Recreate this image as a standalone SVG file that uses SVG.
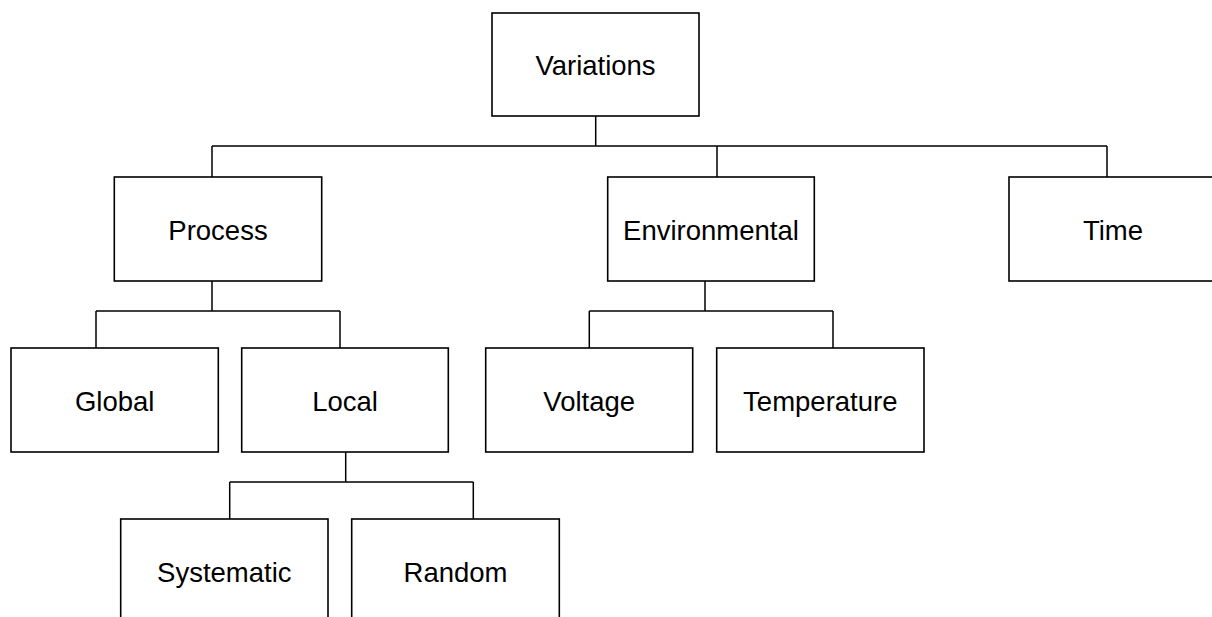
<svg xmlns="http://www.w3.org/2000/svg" width="1212" height="617" viewBox="0 0 1212 617">
  <style>
    .box { fill: #ffffff; stroke: #000000; stroke-width: 1.6; }
    .lbl { font-family: "Liberation Sans", Arial, sans-serif; font-size: 27.5px; fill: #000000; text-anchor: middle; }
    .wire { fill: none; stroke: #000000; stroke-width: 1.5; }
  </style>
  <rect x="0" y="0" width="1212" height="617" fill="#ffffff"/>

  <!-- tree connectors -->
  <g id="connectors">
    <path class="wire" d="M595.7 116 V146 M212 146 H1107 M212 146 V177 M717 146 V177 M1107 146 V177"/>
    <path class="wire" d="M212 281 V311 M96 311 H340 M96 311 V348 M340 311 V348"/>
    <path class="wire" d="M705 281 V311 M589.3 311 H833 M589.3 311 V348 M833 311 V348"/>
    <path class="wire" d="M345.7 452 V482 M229.7 482 H473.3 M229.7 482 V519 M473.3 482 V519"/>
  </g>

  <g id="variations">
    <rect class="box" x="492" y="13" width="207" height="103"/>
    <text class="lbl" x="595.5" y="74.5">Variations</text>
  </g>
  <g id="process">
    <rect class="box" x="114.3" y="177" width="207.4" height="104"/>
    <text class="lbl" x="218" y="239.5">Process</text>
  </g>
  <g id="environmental">
    <rect class="box" x="607.7" y="177" width="206.6" height="104"/>
    <text class="lbl" x="711" y="239.5">Environmental</text>
  </g>
  <g id="time">
    <rect class="box" x="1009" y="177" width="207" height="104"/>
    <text class="lbl" x="1113" y="239.5">Time</text>
  </g>
  <g id="global">
    <rect class="box" x="11" y="348" width="207.3" height="104"/>
    <text class="lbl" x="114.7" y="410.5">Global</text>
  </g>
  <g id="local">
    <rect class="box" x="241.7" y="348" width="206.6" height="104"/>
    <text class="lbl" x="345" y="410.5">Local</text>
  </g>
  <g id="voltage">
    <rect class="box" x="485.7" y="348" width="207" height="104"/>
    <text class="lbl" x="589.2" y="410.5">Voltage</text>
  </g>
  <g id="temperature">
    <rect class="box" x="716.7" y="348" width="207.3" height="104"/>
    <text class="lbl" x="820.3" y="410.5">Temperature</text>
  </g>
  <g id="systematic">
    <rect class="box" x="120.7" y="519" width="207.3" height="104"/>
    <text class="lbl" x="224.3" y="581.5">Systematic</text>
  </g>
  <g id="random">
    <rect class="box" x="351.7" y="519" width="207.6" height="104"/>
    <text class="lbl" x="455.5" y="581.5">Random</text>
  </g>
</svg>
